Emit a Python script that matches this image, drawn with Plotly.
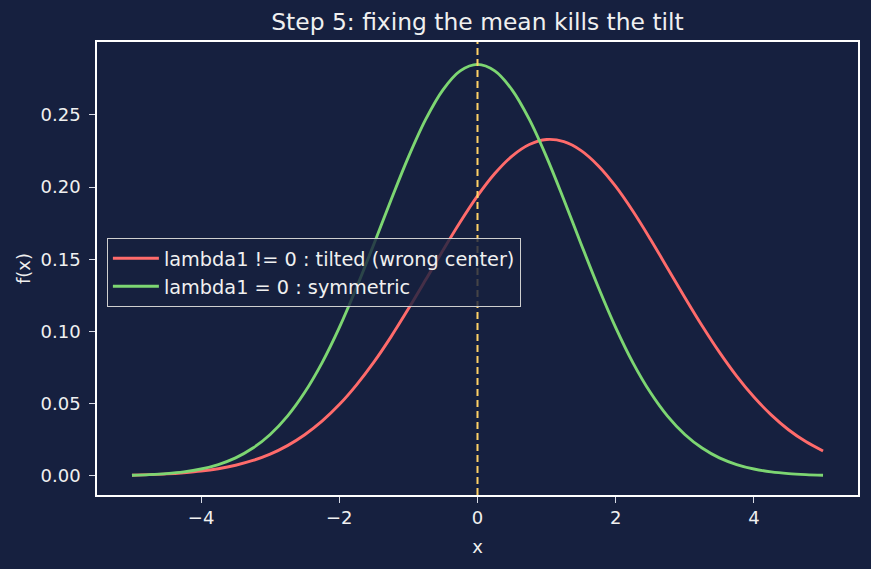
import plotly.graph_objects as go

x_vals = [-5.0, -4.75, -4.5, -4.25, -4.0, -3.75, -3.5, -3.25, -3.0, -2.75, -2.5,
          -2.25, -2.0, -1.75, -1.5, -1.25, -1.0, -0.75, -0.5, -0.25, 0.0,
          0.25, 0.5, 0.75, 1.0, 1.25, 1.5, 1.75, 2.0, 2.25, 2.5,
          2.75, 3.0, 3.25, 3.5, 3.75, 4.0, 4.25, 4.5, 4.75, 5.0]
tilted = [0.0005, 0.0009, 0.0014, 0.0022, 0.0033, 0.0050, 0.0074, 0.0107, 0.0151, 0.0210, 0.0285,
          0.0379, 0.0494, 0.0631, 0.0788, 0.0965, 0.1157, 0.1358, 0.1562, 0.1758, 0.1939,
          0.2094, 0.2215, 0.2295, 0.2330, 0.2315, 0.2253, 0.2147, 0.2005, 0.1833, 0.1641,
          0.1439, 0.1236, 0.1040, 0.0857, 0.0691, 0.0546, 0.0423, 0.0320, 0.0238, 0.0173]
symmetric = [0.0005, 0.0009, 0.0016, 0.0028, 0.0048, 0.0079, 0.0125, 0.0193, 0.0287, 0.0414, 0.0579,
             0.0783, 0.1027, 0.1305, 0.1605, 0.1913, 0.2208, 0.2469, 0.2674, 0.2805, 0.2850,
             0.2805, 0.2674, 0.2469, 0.2208, 0.1913, 0.1605, 0.1305, 0.1027, 0.0783, 0.0579,
             0.0414, 0.0287, 0.0193, 0.0125, 0.0079, 0.0048, 0.0028, 0.0016, 0.0009, 0.0005]
names = ["lambda1 != 0 : tilted (wrong center)", "lambda1 = 0 : symmetric"]
title = "Step 5: fixing the mean kills the tilt"
x_ticks = [-4, -2, 0, 2, 4]
y_ticks = [0.00, 0.05, 0.10, 0.15, 0.20, 0.25]

BG = "#16203f"
FONT = "DejaVu Sans"
TXT = "#f0f0f0"

fig = go.Figure()
fig.add_trace(go.Scatter(x=x_vals, y=tilted, mode="lines", name=names[0],
                         line=dict(color="#ff6b6b", width=2.9, shape="spline", smoothing=1)))
fig.add_trace(go.Scatter(x=x_vals, y=symmetric, mode="lines", name=names[1],
                         line=dict(color="#7dd672", width=2.9, shape="spline", smoothing=1)))
fig.add_shape(type="line", x0=0, x1=0, xref="x", y0=0, y1=1, yref="y domain",
              line=dict(color="#ffd166", width=2, dash="7px,4px"), layer="above")

axis_common = dict(showgrid=False, zeroline=False, showline=True, linecolor="white",
                   linewidth=1.5, mirror=True, ticks="outside", ticklen=6, tickwidth=1.2,
                   tickcolor="#d8dbe6", tickfont=dict(family=FONT, size=18, color=TXT))

fig.update_layout(
    width=871, height=569,
    paper_bgcolor=BG, plot_bgcolor=BG,
    margin=dict(l=97, r=13, t=42, b=74),
    title=dict(text=title, xref="paper", x=0.5, xanchor="center", y=1 - 22 / 569,
               yanchor="middle", font=dict(family=FONT, size=23.4, color=TXT)),
    xaxis=dict(range=[-5.506, 5.506], tickvals=x_ticks,
               ticktext=["\u22124", "\u22122", "0", "2", "4"],
               title=dict(text="x", font=dict(family=FONT, size=18, color=TXT), standoff=13),
               **axis_common),
    yaxis=dict(range=[-0.0132, 0.3005], tickvals=y_ticks,
               ticktext=[f"{v:.2f}" for v in y_ticks], ticklabelstandoff=5,
               title=dict(text="f(x)", font=dict(family=FONT, size=18, color=TXT), standoff=5),
               **axis_common),
    legend=dict(x=0.013, y=0.567, xanchor="left", yanchor="top",
                bgcolor="rgba(22,32,63,0.8)", bordercolor="#cfcfcf", borderwidth=1,
                font=dict(family=FONT, size=19.3, color=TXT), itemwidth=46,
                tracegroupgap=2),
    showlegend=True,
)

fig.write_html("out.html")
